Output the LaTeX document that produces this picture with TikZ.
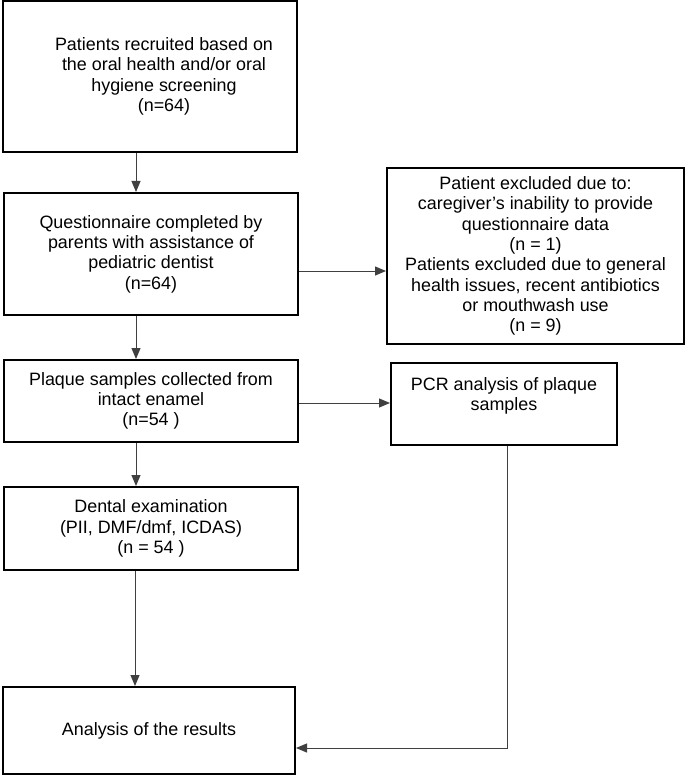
\documentclass[tikz,border=0pt]{standalone}
\usepackage{fontspec}
\setmainfont{Liberation Sans}
\usepackage{tikz}
\usetikzlibrary{positioning}
\usetikzlibrary{arrows.meta}
\tikzset{box/.style={draw, line width=2pt, align=center, inner sep=0pt,
  font=\fontsize{17.9}{20.3}\selectfont}}
\tikzset{txt/.style={align=center, inner sep=0pt, font=\fontsize{17.9}{20.3}\selectfont}}
\tikzset{arr/.style={-{Triangle[length=11pt,width=9pt]}, line width=1pt, black!75}}

\begin{document}
\begin{tikzpicture}[x=1pt,y=-1pt]
\useasboundingbox (0,0) rectangle (685,775);
\node[box, minimum width=294pt, minimum height=151pt,
  label={[txt,xshift=14pt]center:Patients recruited based on\\the oral health and/or oral\\hygiene screening\\(n=64)}] (recruit) at (150,76.5) {};
\node[box, minimum width=294pt, minimum height=122pt] (quest) at (151,254)
  {Questionnaire completed by\\parents with assistance of\\pediatric dentist\\(n=64)};
\node[box, minimum width=297pt, minimum height=176pt] (excl) at (535.5,256)
  {Patient excluded due to:\\caregiver's inability to provide\\questionnaire data\\(n = 1)\\Patients excluded due to general\\health issues, recent antibiotics\\or mouthwash use\\(n = 9)};
\node[box, minimum width=294pt, minimum height=82pt] (plaque) at (151,401)
  {Plaque samples collected from\\intact enamel\\(n=54 )};
\node[box, minimum width=226pt, minimum height=82pt] (pcr) at (504,404)
  {PCR analysis of plaque\\samples\\\mbox{}};
\node[box, minimum width=294pt, minimum height=83pt] (exam) at (151,528.5)
  {Dental examination\\(PII, DMF/dmf, ICDAS)\\(n = 54 )};
\node[box, minimum width=292pt, minimum height=87pt] (result) at (149,730.5)
  {Analysis of the results};
%\coordinate (spine) at (136,0);
\draw[arr] ([xshift=-14pt]recruit.south) -- ([xshift=-15pt]quest.north);
\draw[arr] ([yshift=-17pt]quest.east) -- ([yshift=-17pt]quest.east -| excl.west);
\draw[arr] ([xshift=-15pt]quest.south) -- ([xshift=-15pt]plaque.north);
\draw[arr] ([yshift=-2pt]plaque.east) -- ([yshift=-2pt]plaque.east -| pcr.west);
\draw[arr] ([xshift=-15pt]plaque.south) -- ([xshift=-15pt]exam.north);
\draw[arr] ([xshift=-16pt]exam.south) -- ([xshift=-14pt]result.north);
\draw[arr] ([xshift=3pt]pcr.south) |- ([yshift=-17.5pt]result.east);
\end{tikzpicture}
\end{document}
